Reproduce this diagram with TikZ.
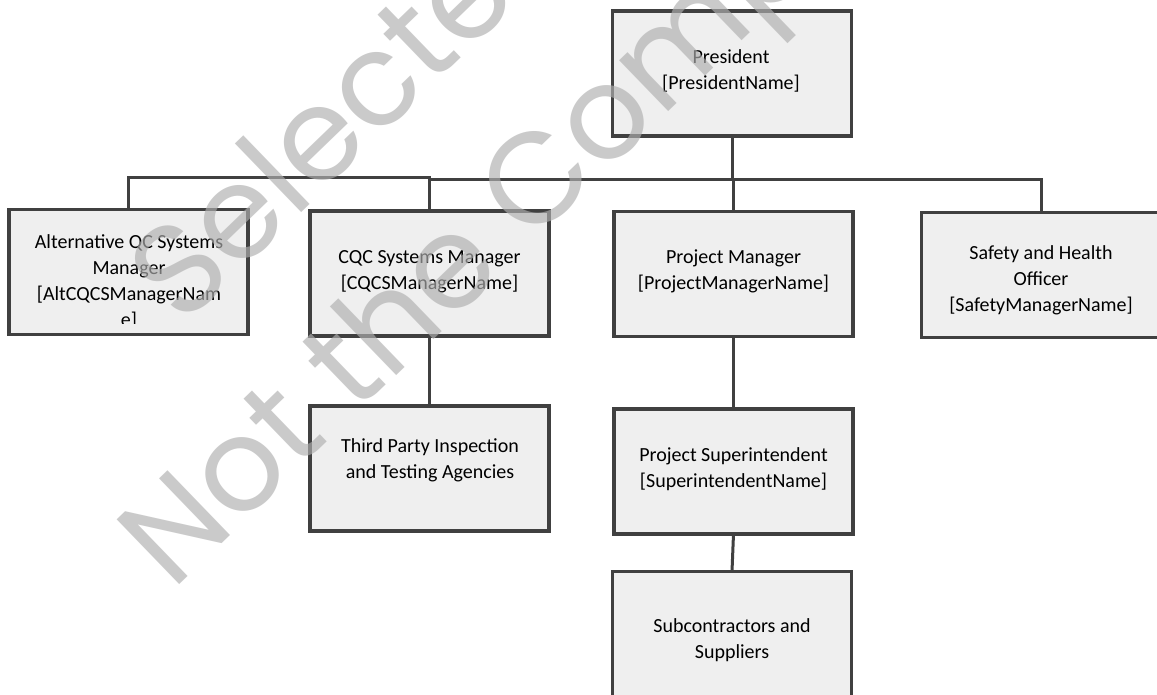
\documentclass[tikz,border=0pt]{standalone}
\usepackage{fontspec}
\setmainfont{Carlito}
\newfontfamily\wmfont{Poppins}
\definecolor{lineC}{RGB}{64,64,64}
\definecolor{boxC}{RGB}{239,239,239}
\definecolor{wmC}{RGB}{175,175,175}
\begin{document}
\begin{tikzpicture}[x=1pt,y=-1pt]
\tikzset{
  orgbox/.style={draw=lineC, fill=boxC, line width=3.5pt, minimum width=239pt, minimum height=125pt, inner sep=0pt, outer sep=0pt},
  txt/.style={font=\fontsize{20}{26}\selectfont, align=center, inner sep=0pt, anchor=north, text=black},
  conn/.style={draw=lineC, line width=3pt},
  wm/.style={font=\wmfont\fontsize{129}{129}\selectfont, text=wmC, text opacity=0.66, inner sep=0pt, anchor=base west, rotate=44}
}
\clip (0,0) rectangle (1157,694);
\fill[white] (0,0) rectangle (1157,694);

% boxes
\node[orgbox] (pres)   at (732,73.5) {};
\node[orgbox] (alt)    at (128.5,272) {};
\node[orgbox] (cqc)    at (429.5,273.7) {};
\node[orgbox] (pm)     at (733.5,273.8) {};
\node[orgbox] (safety) at (1041,275.2) {};
\node[orgbox] (third)  at (429.5,468.4) {};
\node[orgbox] (ps)     at (733.5,471.5) {};
\node[orgbox] (sub)    at (732,634) {};

% connectors
\coordinate (bus) at (0,179);
\coordinate (busL) at (0,177);
\draw[conn] (pres.south) -- (pres.south |- bus);
\draw[conn] (cqc.north |- bus) -- (safety.north |- bus) -- (safety.north);
\draw[conn] (pm.north |- bus) -- (pm.north);
\draw[conn] (alt.north) -- (alt.north |- busL) -- (cqc.north |- busL) -- (cqc.north);
\draw[conn] (cqc.south) -- (third.north);
\draw[conn] (pm.south) -- (ps.north);
\draw[conn] (ps.south) -- (sub.north);

% texts
\node[txt] (presT) at (731,45.3) {\strut President\\\strut [PresidentName]};
\begin{scope}
  \clip (10,210) rectangle (247,323);
  \node[txt] (altT) at (129,230.3) {\strut Alternative QC Systems\\\strut Manager\\\strut [AltCQCSManagerNam\\\strut e]};
\end{scope}
\node[txt] (cqcT) at (429.5,245.3) {\strut CQC Systems Manager\\\strut [CQCSManagerName]};
\node[txt] (pmT) at (733.5,245.3) {\strut Project Manager\\\strut [ProjectManagerName]};
\node[txt] (safetyT) at (1041,241.3) {\strut Safety and Health\\\strut Officer\\\strut [SafetyManagerName]};
\node[txt] (thirdT) at (430,433.8) {\strut Third Party Inspection\\\strut and Testing Agencies};
\node[txt] (psT) at (733.5,442.8) {\strut Project Superintendent\\\strut [SuperintendentName]};
\node[txt] (subT) at (732,613.8) {\strut Subcontractors and\\\strut Suppliers};

% watermark
\node[wm] (wm1) at (182,328) {Selected};
\node[wm] (wm2) at (172,592) {Not the Company};
\end{tikzpicture}
\end{document}
